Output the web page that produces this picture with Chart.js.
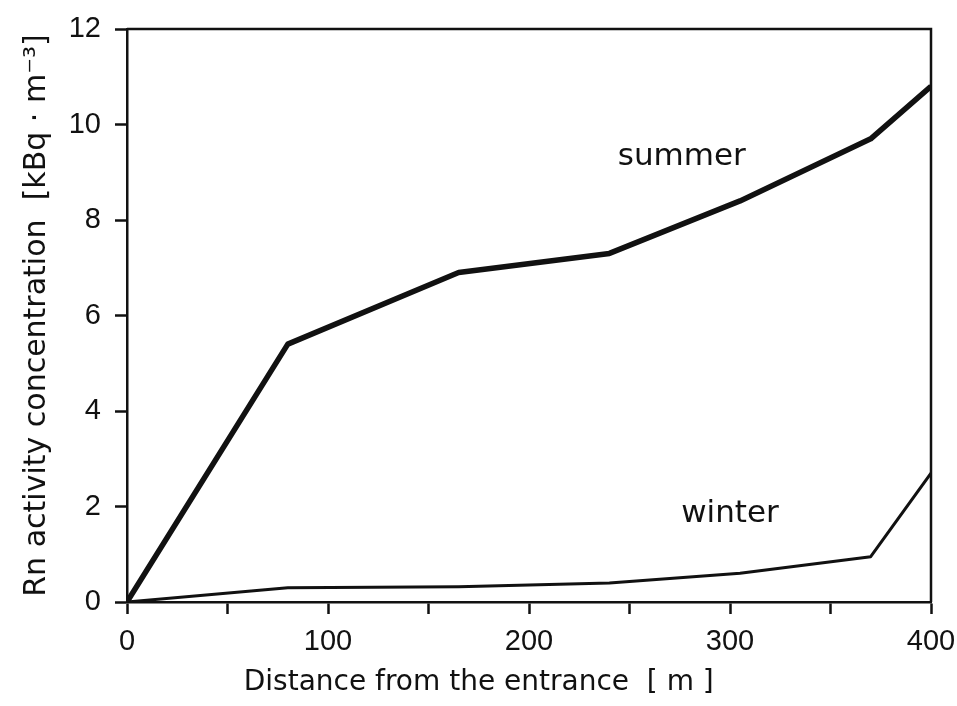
<!DOCTYPE html>
<html>
<head>
<meta charset="utf-8">
<script src="https://cdn.jsdelivr.net/npm/chart.js@4.4.1/dist/chart.umd.min.js"></script>
<style>
  html, body { margin: 0; padding: 0; background: #fff; }
  #wrap { width: 957px; height: 706px; }
</style>
</head>
<body>
<div id="wrap"><canvas id="rnChart"></canvas></div>
<script>
// distance from the entrance [m]
const distance = [0, 80, 165, 240, 305, 370, 400];

// Rn activity concentration [kBq/m3]
const summer = [0, 5.4, 6.9, 7.3, 8.4, 9.7, 10.8];
const winter = [0, 0.3, 0.32, 0.4, 0.6, 0.95, 2.7];

const seriesNames = ["summer", "winter"];
const seriesLabelAt = [[276, 9.15], [300, 1.68]];

const xTitle = "Distance from the entrance  [ m ]";
const yTitle = "Rn activity concentration  [kBq · m⁻³]";

const ink = "#111";

function toPoints(ys) {
    return distance.map((d, i) => ({ x: d, y: ys[i] }));
}

// frame on top/right, in-plot series labels, x axis title
const extras = {
    id: "extras",
    afterDraw(chart) {
        const { ctx, chartArea, scales } = chart;
        ctx.save();
        ctx.strokeStyle = ink;
        ctx.lineWidth = 2.5;
        ctx.beginPath();
        ctx.moveTo(chartArea.left, chartArea.top);
        ctx.lineTo(chartArea.right, chartArea.top);
        ctx.lineTo(chartArea.right, chartArea.bottom);
        ctx.stroke();

        ctx.fillStyle = ink;
        ctx.font = "31px 'DejaVu Sans'";
        ctx.textAlign = "center";
        ctx.textBaseline = "alphabetic";
        seriesNames.forEach((name, i) => {
            const px = scales.x.getPixelForValue(seriesLabelAt[i][0]);
            const py = scales.y.getPixelForValue(seriesLabelAt[i][1]);
            ctx.fillText(name, px, py);
        });

        ctx.font = "28px 'DejaVu Sans'";
        ctx.fillText(xTitle, scales.x.getPixelForValue(175), chartArea.bottom + 88);
        ctx.restore();
    }
};

new Chart(document.getElementById("rnChart"), {
    type: "line",
    data: {
        datasets: [
            {
                label: seriesNames[0],
                data: toPoints(summer),
                borderColor: ink,
                borderWidth: 5.5,
                pointRadius: 0,
                tension: 0,
                borderJoinStyle: "round"
            },
            {
                label: seriesNames[1],
                data: toPoints(winter),
                borderColor: ink,
                borderWidth: 3,
                pointRadius: 0,
                tension: 0,
                borderJoinStyle: "round"
            }
        ]
    },
    options: {
        responsive: true,
        maintainAspectRatio: false,
        animation: false,
        layout: { padding: { top: 29, right: 26, left: 0, bottom: 0 } },
        plugins: {
            legend: { display: false },
            tooltip: { enabled: false }
        },
        scales: {
            x: {
                type: "linear",
                min: 0,
                max: 400,
                afterFit(scale) {
                    scale.height = 104;
                    scale.paddingLeft = 0;
                    scale.paddingRight = 0;
                },
                border: { display: true, color: ink, width: 2.5 },
                grid: {
                    drawOnChartArea: false,
                    drawTicks: true,
                    tickLength: 12,
                    tickWidth: 2.5,
                    tickColor: ink
                },
                ticks: {
                    stepSize: 50,
                    autoSkip: false,
                    maxRotation: 0,
                    padding: 11,
                    color: ink,
                    font: { family: "Liberation Sans", size: 29 },
                    callback: v => (v % 100 === 0 ? v : "")
                }
            },
            y: {
                min: 0,
                max: 12,
                afterFit(scale) {
                    scale.width = 127;
                    scale.paddingTop = 0;
                    scale.paddingBottom = 0;
                },
                border: { display: true, color: ink, width: 2.5 },
                grid: {
                    drawOnChartArea: false,
                    drawTicks: true,
                    tickLength: 12,
                    tickWidth: 2.5,
                    tickColor: ink
                },
                ticks: {
                    stepSize: 2,
                    padding: 14,
                    color: ink,
                    font: { family: "Liberation Sans", size: 29 }
                },
                title: {
                    display: true,
                    text: yTitle,
                    color: ink,
                    font: { family: "DejaVu Sans", size: 30 },
                    padding: { top: 19, bottom: 0 }
                }
            }
        }
    },
    plugins: [extras]
});
</script>
</body>
</html>
